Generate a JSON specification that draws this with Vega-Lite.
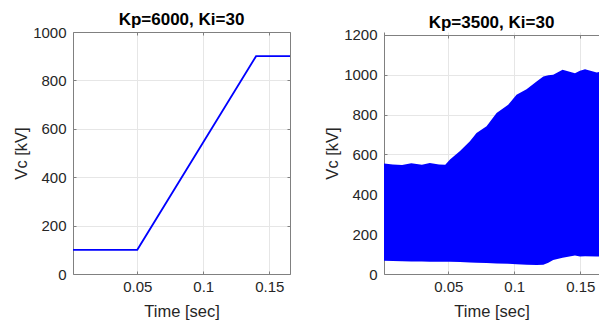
{
  "$schema": "https://vega.github.io/schema/vega-lite/v6.json",
  "padding": {"left": 13, "top": 11, "right": 0, "bottom": 0},
  "spacing": 33,
  "datasets": {
    "vc1": [
      {"t": 0.0013, "v": 100},
      {"t": 0.05, "v": 100},
      {"t": 0.14, "v": 900},
      {"t": 0.1657, "v": 900}
    ],
    "vc2": [
      {"t": 0.0013, "hi": 555, "lo": 66},
      {"t": 0.008, "hi": 550, "lo": 65},
      {"t": 0.015, "hi": 547, "lo": 64},
      {"t": 0.022, "hi": 556, "lo": 63},
      {"t": 0.03, "hi": 548, "lo": 63},
      {"t": 0.036, "hi": 557, "lo": 62},
      {"t": 0.043, "hi": 550, "lo": 62},
      {"t": 0.0477, "hi": 548, "lo": 62},
      {"t": 0.0513, "hi": 575, "lo": 62},
      {"t": 0.0589, "hi": 617, "lo": 60},
      {"t": 0.0664, "hi": 667, "lo": 58},
      {"t": 0.0714, "hi": 708, "lo": 56},
      {"t": 0.079, "hi": 742, "lo": 55},
      {"t": 0.0866, "hi": 808, "lo": 53},
      {"t": 0.0954, "hi": 850, "lo": 51},
      {"t": 0.1017, "hi": 900, "lo": 49},
      {"t": 0.1093, "hi": 928, "lo": 46},
      {"t": 0.1169, "hi": 967, "lo": 45},
      {"t": 0.122, "hi": 992, "lo": 47},
      {"t": 0.1258, "hi": 998, "lo": 56},
      {"t": 0.1295, "hi": 1000, "lo": 70},
      {"t": 0.1366, "hi": 1025, "lo": 82},
      {"t": 0.146, "hi": 1008, "lo": 93},
      {"t": 0.1498, "hi": 1020, "lo": 88},
      {"t": 0.1536, "hi": 1028, "lo": 89},
      {"t": 0.1625, "hi": 1012, "lo": 88},
      {"t": 0.1657, "hi": 1015, "lo": 88}
    ]
  },
  "hconcat": [
    {
      "width": 217,
      "height": 242,
      "title": "Kp=6000, Ki=30",
      "data": {"name": "vc1"},
      "layer": [
        {
          "mark": {"type": "line", "color": "#0000ff", "strokeWidth": 1.8, "clip": true},
          "encoding": {
            "x": {"field": "t", "type": "quantitative", "scale": {"domain": [0.0013, 0.1657], "nice": false, "zero": false},
                  "axis": {"orient": "bottom", "values": [0.05, 0.1, 0.15], "format": "~g", "title": "Time [sec]", "grid": true, "labelPadding": 8, "titlePadding": 9}},
            "y": {"field": "v", "type": "quantitative", "scale": {"domain": [0, 1000], "nice": false},
                  "axis": {"orient": "left", "values": [0, 200, 400, 600, 800, 1000], "format": "d", "title": "Vc [kV]", "grid": true}}
          }
        },
        {
          "mark": {"type": "line", "opacity": 0, "clip": true},
          "encoding": {
            "x": {"field": "t", "type": "quantitative", "axis": {"orient": "top", "values": [0.05, 0.1, 0.15], "labels": false, "title": null, "grid": false}},
            "y": {"field": "v", "type": "quantitative", "axis": {"orient": "right", "values": [0, 200, 400, 600, 800, 1000], "labels": false, "title": null, "grid": false}}
          }
        }
      ],
      "resolve": {"axis": {"x": "independent", "y": "independent"}}
    },
    {
      "width": 215,
      "height": 242,
      "title": "Kp=3500, Ki=30",
      "data": {"name": "vc2"},
      "layer": [
        {
          "mark": {"type": "area", "color": "#0000ff", "opacity": 1, "clip": true},
          "encoding": {
            "x": {"field": "t", "type": "quantitative", "scale": {"domain": [0.0013, 0.1642], "nice": false, "zero": false},
                  "axis": {"orient": "bottom", "values": [0.05, 0.1, 0.15], "format": "~g", "title": "Time [sec]", "grid": true, "labelPadding": 8, "titlePadding": 9}},
            "y": {"field": "hi", "type": "quantitative", "scale": {"domain": [0, 1215], "nice": false},
                  "axis": {"orient": "left", "values": [0, 200, 400, 600, 800, 1000, 1200], "format": "d", "title": "Vc [kV]", "grid": true}},
            "y2": {"field": "lo"}
          }
        },
        {
          "mark": {"type": "area", "opacity": 0, "clip": true},
          "encoding": {
            "x": {"field": "t", "type": "quantitative", "axis": {"orient": "top", "values": [0.05, 0.1, 0.15], "labels": false, "title": null, "grid": false, "offset": -3}},
            "y": {"field": "hi", "type": "quantitative"},
            "y2": {"field": "lo"}
          }
        }
      ],
      "resolve": {"axis": {"x": "independent"}}
    }
  ],
  "config": {
    "font": "Liberation Sans",
    "view": {"stroke": null},
    "axis": {
      "labelFont": "Liberation Sans",
      "labelFontSize": 15,
      "labelColor": "#262626",
      "labelPadding": 10,
      "titleFont": "Liberation Sans",
      "titleFontSize": 16.5,
      "titleFontWeight": "normal",
      "titleColor": "#262626",
      "titlePadding": 3,
      "domainColor": "#808080",
      "domainWidth": 1,
      "tickColor": "#808080",
      "tickSize": -3,
      "gridColor": "#e6e6e6",
      "gridWidth": 1
    },
    "title": {"font": "Liberation Sans", "fontSize": 17, "fontWeight": "bold", "color": "#000000", "offset": -4}
  }
}
